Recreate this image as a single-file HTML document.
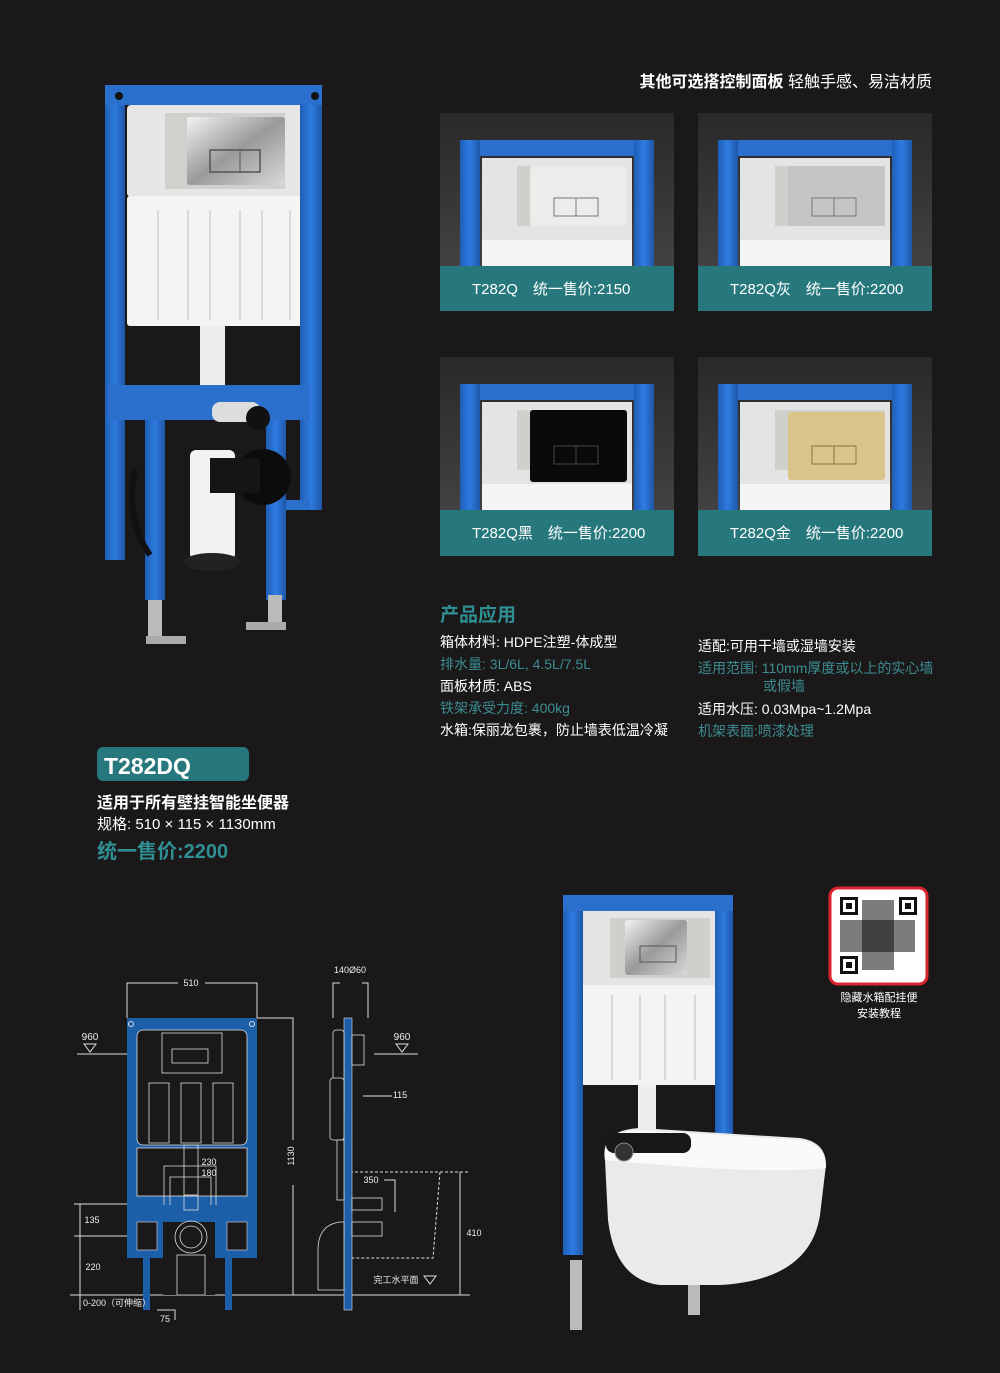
<!DOCTYPE html>
<html><head><meta charset="utf-8"><style>
html,body{margin:0;padding:0;background:#1b1819;}
svg{display:block}
text{font-family:"Liberation Sans","Noto Sans CJK SC",sans-serif;}
</style></head><body>
<svg width="1000" height="1373" viewBox="0 0 1000 1373" xmlns="http://www.w3.org/2000/svg">
<rect width="1000" height="1373" fill="#1b1819"/>
<defs>
<linearGradient id="chrome" x1="0" y1="0" x2="1" y2="1"><stop offset="0" stop-color="#f2f2f2"/><stop offset="0.5" stop-color="#9a9a9a"/><stop offset="1" stop-color="#d8d8d8"/></linearGradient>
<linearGradient id="cardbg" x1="0" y1="0" x2="0" y2="1"><stop offset="0" stop-color="#2a2828"/><stop offset="1" stop-color="#4a4848"/></linearGradient>
<linearGradient id="blue" x1="0" y1="0" x2="1" y2="0"><stop offset="0" stop-color="#1e5fb8"/><stop offset="0.5" stop-color="#2f7be0"/><stop offset="1" stop-color="#1d56a8"/></linearGradient>
</defs>

<!-- Main product left -->
<g>
<rect x="127" y="105" width="176" height="92" fill="#e6e6e6" rx="4"/>
<rect x="165" y="113" width="120" height="76" fill="#d0d0cc"/>
<rect x="187" y="117" width="98" height="68" fill="url(#chrome)" rx="3"/>
<rect x="210" y="150" width="50" height="22" fill="none" stroke="#555" stroke-width="1.5"/>
<line x1="240" y1="150" x2="240" y2="172" stroke="#555"/>
<rect x="127" y="196" width="185" height="130" fill="#f4f4f4" rx="3"/>
<g stroke="#cfcfcf" stroke-width="1.5"><line x1="158" y1="210" x2="158" y2="320"/><line x1="188" y1="210" x2="188" y2="320"/><line x1="210" y1="210" x2="210" y2="320"/><line x1="240" y1="210" x2="240" y2="320"/><line x1="262" y1="210" x2="262" y2="320"/><line x1="290" y1="210" x2="290" y2="320"/></g>
<rect x="200" y="326" width="25" height="75" fill="#eee"/>
<rect x="105" y="85" width="20" height="475" fill="url(#blue)"/>
<rect x="300" y="85" width="22" height="425" fill="url(#blue)"/>
<rect x="105" y="85" width="217" height="20" fill="#2a6fcc"/>
<circle cx="119" cy="96" r="4" fill="#111"/><circle cx="315" cy="96" r="4" fill="#111"/>
<rect x="108" y="385" width="202" height="35" fill="#2a6fcc"/>
<rect x="145" y="420" width="20" height="180" fill="url(#blue)"/>
<rect x="266" y="420" width="20" height="180" fill="url(#blue)"/>
<rect x="286" y="500" width="24" height="10" fill="#2a6fcc"/>
<rect x="148" y="600" width="14" height="40" fill="#bbb"/><rect x="146" y="636" width="40" height="8" fill="#aaa"/>
<rect x="268" y="595" width="14" height="30" fill="#bbb"/><rect x="246" y="622" width="40" height="8" fill="#aaa"/>
<rect x="212" y="402" width="48" height="20" fill="#ddd" rx="8"/>
<circle cx="258" cy="418" r="12" fill="#111"/>
<rect x="190" y="450" width="45" height="110" fill="#f2f2f2" rx="6"/>
<ellipse cx="212" cy="562" rx="28" ry="9" fill="#222"/>
<ellipse cx="263" cy="477" rx="28" ry="28" fill="#0c0c0c"/>
<rect x="210" y="458" width="50" height="35" fill="#151515"/>
<path d="M135 470 Q125 520 150 555" stroke="#111" stroke-width="6" fill="none"/>
</g>

<!-- top heading -->
<text x="932" y="87" fill="#fff" font-size="16" text-anchor="end" font-weight="bold">其他可选搭控制面板 <tspan font-weight="normal">轻触手感、易洁材质</tspan></text>

<!-- cards -->
<g id="card">
<rect x="440" y="113" width="234" height="198" fill="url(#cardbg)"/>
<rect x="460" y="140" width="194" height="16" fill="#2a6fcc"/>
<rect x="460" y="140" width="20" height="126" fill="url(#blue)"/>
<rect x="634" y="140" width="20" height="126" fill="url(#blue)"/>
<rect x="482" y="158" width="150" height="82" fill="#e4e4e4"/>
<rect x="482" y="240" width="150" height="26" fill="#f5f5f5"/>
<rect x="517" y="166" width="110" height="60" fill="#cfcfcb"/>
</g>
<rect x="530" y="166" width="97" height="60" fill="#ececea" rx="3"/>
<rect x="554" y="198" width="44" height="18" fill="none" stroke="#777"/><line x1="576" y1="198" x2="576" y2="216" stroke="#777"/>
<rect x="440" y="266" width="234" height="45" fill="#26787c"/>
<text x="472" y="294" fill="#fff" font-size="15">T282Q　统一售价:2150</text>

<use href="#card" x="258"/>
<rect x="788" y="166" width="97" height="60" fill="#c5c5c5" rx="3"/>
<rect x="812" y="198" width="44" height="18" fill="none" stroke="#777"/><line x1="834" y1="198" x2="834" y2="216" stroke="#777"/>
<rect x="698" y="266" width="234" height="45" fill="#26787c"/>
<text x="730" y="294" fill="#fff" font-size="15">T282Q灰　统一售价:2200</text>

<use href="#card" y="244"/>
<rect x="530" y="410" width="97" height="72" fill="#0a0a0a" rx="3"/>
<rect x="554" y="446" width="44" height="18" fill="none" stroke="#444"/><line x1="576" y1="446" x2="576" y2="464" stroke="#444"/>
<rect x="440" y="510" width="234" height="46" fill="#26787c"/>
<text x="472" y="538" fill="#fff" font-size="15">T282Q黑　统一售价:2200</text>

<use href="#card" x="258" y="244"/>
<rect x="788" y="412" width="97" height="68" fill="#d9c48a" rx="3"/>
<rect x="812" y="446" width="44" height="18" fill="none" stroke="#8a7540"/><line x1="834" y1="446" x2="834" y2="464" stroke="#8a7540"/>
<rect x="698" y="510" width="234" height="46" fill="#26787c"/>
<text x="730" y="538" fill="#fff" font-size="15">T282Q金　统一售价:2200</text>

<!-- product application -->
<text x="440" y="621" fill="#2f8f93" font-size="19" font-weight="bold">产品应用</text>
<g font-size="14">
<text x="440" y="647" fill="#fff">箱体材料: HDPE注塑-体成型</text>
<text x="440" y="669" fill="#3b8d91">排水量: 3L/6L, 4.5L/7.5L</text>
<text x="440" y="691" fill="#fff">面板材质: ABS</text>
<text x="440" y="713" fill="#3b8d91">铁架承受力度: 400kg</text>
<text x="440" y="735" fill="#fff">水箱:保丽龙包裹，防止墙表低温冷凝</text>
<text x="698" y="651" fill="#fff">适配:可用干墙或湿墙安装</text>
<text x="698" y="673" fill="#3b8d91">适用范围: 110mm厚度或以上的实心墙</text>
<text x="763" y="691" fill="#3b8d91">或假墙</text>
<text x="698" y="714" fill="#fff">适用水压: 0.03Mpa~1.2Mpa</text>
<text x="698" y="736" fill="#3b8d91">机架表面:喷漆处理</text>
</g>

<!-- T282DQ -->
<rect x="97" y="747" width="152" height="34" rx="6" fill="#26787c"/>
<text x="104" y="774" fill="#fff" font-size="23" font-weight="bold">T282DQ</text>
<text x="97" y="808" fill="#fff" font-size="16" font-weight="bold">适用于所有壁挂智能坐便器</text>
<text x="97" y="829" fill="#fff" font-size="15">规格: 510 × 115 × 1130mm</text>
<text x="97" y="858" fill="#2f8f93" font-size="20" font-weight="bold">统一售价:2200</text>

<!-- technical drawing -->
<g stroke="#ddd" stroke-width="1" fill="none">
<!-- dims -->
<polyline points="127,1018 127,983 178,983"/><polyline points="205,983 257,983 257,1018"/>
<line x1="77" y1="1054" x2="150" y2="1054"/><line x1="374" y1="1054" x2="418" y2="1054"/>
<polyline points="257,1018 293,1018 293,1140"/><line x1="293" y1="1185" x2="293" y2="1295"/>
<line x1="74" y1="1204" x2="185" y2="1204"/><line x1="74" y1="1236" x2="215" y2="1236"/>
<line x1="80" y1="1204" x2="80" y2="1310"/>
<line x1="70" y1="1295" x2="470" y2="1295"/>
<polyline points="157,1310 175,1310 175,1320"/>
<polyline points="333,1018 333,983 340,983"/><polyline points="362,983 368,983 368,1018"/>
<line x1="363" y1="1096" x2="392" y2="1096"/>
<line x1="350" y1="1172" x2="470" y2="1172" stroke-dasharray="3,2"/>
<polyline points="440,1172 433,1258 350,1258" stroke-dasharray="3,2"/>
<line x1="460" y1="1172" x2="460" y2="1295"/>
<polyline points="384,1180 395,1180 395,1212"/>
</g>
<!-- front frame -->
<g>
<path d="M127 1018 H257 V1258 H232 V1310 H225 V1258 H215 V1295 H165 V1258 H150 V1310 H143 V1258 H127 Z" fill="#1c5fa8"/>
<rect x="137" y="1030" width="110" height="115" fill="#1b1819" stroke="#ddd" stroke-width="0.8" rx="6"/>
<rect x="137" y="1148" width="110" height="48" fill="#1b1819" stroke="#ddd" stroke-width="0.8"/>
<rect x="137" y="1222" width="20" height="28" fill="#1b1819" stroke="#ddd" stroke-width="0.6"/>
<rect x="227" y="1222" width="20" height="28" fill="#1b1819" stroke="#ddd" stroke-width="0.6"/>
<rect x="163" y="1222" width="52" height="73" fill="#1b1819"/>
<g stroke="#ddd" stroke-width="0.8" fill="none">
<rect x="162" y="1033" width="60" height="40"/><rect x="172" y="1049" width="36" height="14"/>
<rect x="149" y="1083" width="20" height="60"/><rect x="181" y="1083" width="20" height="60"/><rect x="213" y="1083" width="20" height="60"/>
<rect x="184" y="1145" width="14" height="50"/>
<rect x="184" y="1196" width="14" height="14"/>
<circle cx="191" cy="1237" r="16"/><circle cx="191" cy="1237" r="11"/>
<rect x="177" y="1255" width="28" height="40"/>
<polyline points="164,1205 164,1166 216,1166 216,1205"/><polyline points="170,1205 170,1177 211,1177 211,1205"/>
</g>
<circle cx="131" cy="1024" r="2.5" fill="none" stroke="#ddd"/><circle cx="252" cy="1024" r="2.5" fill="none" stroke="#ddd"/>
</g>
<g fill="#eee" font-size="9" text-anchor="middle">
<text x="191" y="986">510</text>
<text x="90" y="1040" font-size="10">960</text><path d="M84 1044 H96 L90 1052Z" fill="none" stroke="#ddd"/>
<text x="402" y="1040" font-size="10">960</text><path d="M396 1044 H408 L402 1052Z" fill="none" stroke="#ddd"/>
<text x="209" y="1165">230</text><text x="209" y="1176">180</text>
<text x="92" y="1223">135</text><text x="93" y="1270">220</text>
<text x="117" y="1306">0-200（可伸缩）</text>
<text x="165" y="1322">75</text>
<text x="350" y="973">140Ø60</text>
<text x="400" y="1098">115</text>
<text x="371" y="1183">350</text>
<text x="474" y="1236">410</text>
<text x="331" y="1266" font-size="7">Ø110</text>
<text x="396" y="1283">完工水平面</text>
<text x="0" y="0" transform="translate(294,1156) rotate(-90)">1130</text>
</g>
<path d="M424 1276 H436 L430 1284Z" fill="none" stroke="#ddd"/>
<!-- side view -->
<rect x="344" y="1018" width="8" height="292" fill="#1c5fa8" stroke="#ddd" stroke-width="0.6"/>
<g stroke="#ddd" stroke-width="0.8" fill="#1b1819">
<rect x="333" y="1030" width="11" height="85" rx="3"/>
<rect x="330" y="1078" width="14" height="62" rx="3"/>
<rect x="352" y="1035" width="12" height="30"/>
<rect x="337" y="1140" width="7" height="60"/>
<rect x="352" y="1198" width="30" height="12"/>
<path d="M340 1222 Q318 1225 318 1250 V1290 H344 V1222Z"/>
<rect x="352" y="1222" width="30" height="14"/>
</g>

<!-- bottom right product -->
<rect x="583" y="910" width="135" height="75" fill="#e4e4e4"/>
<rect x="610" y="918" width="100" height="60" fill="#cfcfcb"/>
<rect x="625" y="920" width="62" height="55" fill="url(#chrome)" rx="3"/>
<rect x="640" y="946" width="36" height="16" fill="none" stroke="#555"/>
<rect x="583" y="985" width="140" height="100" fill="#f4f4f4"/>
<g stroke="#cfcfcf" stroke-width="1.5"><line x1="612" y1="995" x2="612" y2="1080"/><line x1="640" y1="995" x2="640" y2="1080"/><line x1="665" y1="995" x2="665" y2="1080"/><line x1="695" y1="995" x2="695" y2="1080"/></g>
<rect x="638" y="1085" width="18" height="50" fill="#eee"/>
<rect x="563" y="895" width="20" height="360" fill="url(#blue)"/>
<rect x="715" y="895" width="18" height="250" fill="url(#blue)"/>
<rect x="563" y="895" width="170" height="16" fill="#2a6fcc"/>
<rect x="570" y="1260" width="12" height="70" fill="#bbb"/>
<rect x="688" y="1270" width="12" height="45" fill="#bbb"/>
<path d="M605 1160 Q600 1130 640 1128 L800 1138 Q826 1142 826 1165 L820 1215 Q810 1280 720 1285 L660 1285 Q615 1280 608 1220 Z" fill="#eaeaea"/>
<path d="M605 1160 Q600 1132 640 1130 L800 1140 Q826 1144 826 1168 Q760 1175 605 1160Z" fill="#fafafa"/>
<rect x="606" y="1133" width="85" height="20" rx="8" fill="#181818"/>
<circle cx="624" cy="1152" r="9" fill="#333" stroke="#888"/>

<!-- QR -->
<rect x="830" y="888" width="97" height="96" rx="8" fill="#fff" stroke="#d8262f" stroke-width="3"/>
<g fill="#111">
<rect x="840" y="897" width="18" height="18"/><rect x="899" y="897" width="18" height="18"/><rect x="840" y="956" width="18" height="18"/>
<rect x="862" y="900" width="32" height="70" fill="#111" opacity="0.55"/>
<rect x="840" y="920" width="75" height="32" opacity="0.55"/>
</g>
<g fill="#fff"><rect x="843" y="900" width="12" height="12"/><rect x="902" y="900" width="12" height="12"/><rect x="843" y="959" width="12" height="12"/></g>
<g fill="#111"><rect x="846" y="903" width="6" height="6"/><rect x="905" y="903" width="6" height="6"/><rect x="846" y="962" width="6" height="6"/></g>
<text x="879" y="1001" fill="#fff" font-size="11" text-anchor="middle">隐藏水箱配挂便</text>
<text x="879" y="1017" fill="#fff" font-size="11" text-anchor="middle">安装教程</text>
</svg>
</body></html>
